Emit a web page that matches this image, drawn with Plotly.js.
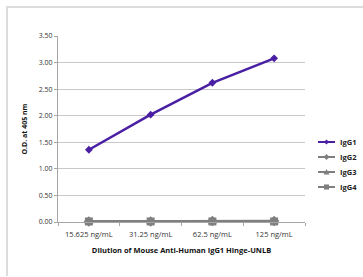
<!DOCTYPE html>
<html><head><meta charset="utf-8">
<script src="https://cdn.plot.ly/plotly-3.0.1.min.js"></script>
<style>
html,body{margin:0;padding:0;background:#fff;width:363px;height:277px;overflow:hidden;}
#frame{position:absolute;left:6px;top:6px;width:360px;height:268px;border-left:2px solid #dcdcdc;border-top:2px solid #dcdcdc;pointer-events:none;}
#chart{position:absolute;left:0;top:0;width:363px;height:277px;}
</style></head>
<body>
<div id="chart"></div>
<div id="frame"></div>
<script>
const categories = ["15.625 ng/mL", "31.25 ng/mL", "62.5 ng/mL", "125 ng/mL"];
const seriesNames = ["IgG1", "IgG2", "IgG3", "IgG4"];
const igg1 = [1.36, 2.02, 2.62, 3.08];
const igg2 = [0.01, 0.01, 0.02, 0.02];
const igg3 = [0.01, 0.01, 0.01, 0.01];
const igg4 = [0.01, 0.01, 0.01, 0.01];
const yTicks = [0, 0.5, 1, 1.5, 2, 2.5, 3, 3.5];
const yTickText = ["0.00","0.50","1.00","1.50","2.00","2.50","3.00","3.50"];

const purple = "#4a1fa3";
const gray = "#7f7f7f";
const values = [igg1, igg2, igg3, igg4];
const colors = [purple, gray, gray, gray];
const symbols = ["diamond", "diamond", "triangle-up", "square"];
const msizes = [6, 8, 8, 8];
const font = "'Open Sans', 'Liberation Sans', sans-serif";

const traces = values.map((v, i) => ({
  x: categories, y: v, name: seriesNames[i], mode: "lines+markers", cliponaxis: false,
  line: {color: colors[i], width: 2.5},
  marker: {symbol: symbols[i], size: msizes[i], color: colors[i]},
  showlegend: false
}));

// custom compact legend (plot area: 58..305 px wide, 36..222 px tall)
const plotL = 58, plotW = 247, plotB = 222, plotH = 186;
const legX = (318 - plotL) / plotW;
const legTextX = (338 - plotL) / plotW;
const markerPaths = {
  "diamond": (s) => `M ${8.5 - s} 0 L 8.5 ${s} L ${8.5 + s} 0 L 8.5 ${-s} Z`,
  "triangle-up": (s) => `M ${8.5 - s} ${-s * 0.8} L ${8.5 + s} ${-s * 0.8} L 8.5 ${s} Z`,
  "square": (s) => `M ${8.5 - s * 0.85} ${-s * 0.85} L ${8.5 + s * 0.85} ${-s * 0.85} L ${8.5 + s * 0.85} ${s * 0.85} L ${8.5 - s * 0.85} ${s * 0.85} Z`
};
const shapes = [];
const annotations = [];
seriesNames.forEach((name, i) => {
  const ly = (plotB - (142 + 15 * i)) / plotH;
  shapes.push({type: "line", xref: "paper", yref: "paper", xsizemode: "pixel", ysizemode: "pixel",
    xanchor: legX, yanchor: ly, x0: 0, x1: 17, y0: 0, y1: 0, line: {color: colors[i], width: 2}});
  const s = i === 0 ? 2.6 : 3;
  shapes.push({type: "path", xref: "paper", yref: "paper", xsizemode: "pixel", ysizemode: "pixel",
    xanchor: legX, yanchor: ly, path: markerPaths[symbols[i]](s), fillcolor: colors[i], line: {width: 0}});
  annotations.push({xref: "paper", yref: "paper", x: legTextX, y: ly, xanchor: "left", yanchor: "middle",
    showarrow: false, text: name, font: {family: font, size: 7.5, color: "#222", weight: "bold"}});
});

const layout = {
  width: 363, height: 277,
  margin: {l: 58, r: 58, t: 36, b: 55, autoexpand: false},
  paper_bgcolor: "rgba(0,0,0,0)", plot_bgcolor: "#fff",
  font: {family: font, size: 7, color: "#333"},
  showlegend: false,
  shapes: shapes,
  annotations: annotations,
  xaxis: {
    type: "category", range: [-0.5, categories.length - 0.5], showgrid: false, zeroline: false,
    showline: true, linecolor: "#a6a6a6", linewidth: 1,
    ticks: "outside", tickson: "boundaries", ticklen: 3, tickcolor: "#a6a6a6",
    ticklabelstandoff: 5,
    tickfont: {family: font, size: 7.5, color: "#333"},
    title: {text: "Dilution of Mouse Anti-Human IgG1 Hinge-UNLB", font: {family: font, size: 7.5, color: "#111", weight: "bold"}, standoff: 9},
    fixedrange: true
  },
  yaxis: {
    range: [0, 3.5], tickvals: yTicks, ticktext: yTickText,
    showgrid: true, gridcolor: "#c8c8c8", gridwidth: 1, zeroline: false,
    showline: true, linecolor: "#a6a6a6", linewidth: 1,
    ticks: "outside", ticklen: 3, tickcolor: "#a6a6a6",
    tickfont: {family: font, size: 7, color: "#333"},
    title: {text: "O.D. at 405 nm", font: {family: font, size: 7, color: "#111", weight: "bold"}, standoff: 10},
    fixedrange: true
  }
};
Plotly.newPlot("chart", traces, layout, {displayModeBar: false, staticPlot: true});
</script>
</body></html>
